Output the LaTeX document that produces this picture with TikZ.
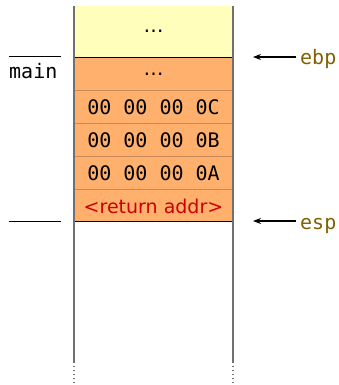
\documentclass[tikz,border=0pt]{standalone}
\usepackage{fontspec}
\setmainfont{DejaVu Sans}
\newfontfamily\hexfont{DejaVu Sans Mono}
\usetikzlibrary{arrows.meta}
\definecolor{cellyellow}{HTML}{FFFFBB}
\definecolor{cellorange}{HTML}{FFB06C}
\definecolor{rowline}{HTML}{C88A5A}
\definecolor{sidegray}{HTML}{707070}
\definecolor{regcolor}{HTML}{806000}
\definecolor{retred}{HTML}{CC0000}
\begin{document}
\begin{tikzpicture}[x=1pt,y=-1pt,
  cell/.style={minimum width=159pt,inner sep=0pt,outer sep=0pt,anchor=north west},
  txt/.style={inner sep=0pt,anchor=base},
  hex/.style={txt,font=\hexfont\fontsize{20}{22}\selectfont},
  dots/.style={txt,font=\fontsize{20}{22}\selectfont},
  reg/.style={font=\hexfont\fontsize{20}{22}\selectfont,text=regcolor,anchor=base west,inner sep=0pt},
  ptr/.style={-{Stealth[length=8pt,width=6pt]},line width=1.4pt,black},
  frame/.style={line width=0.6pt,black},
  side/.style={line width=1.4pt,sidegray}]
\useasboundingbox (0,0) rectangle (339,385);
% cells
\node[cell,fill=cellyellow,minimum height=51pt] (top) at (74,6) {};
\node[dots] (topdots) at (153.5,33) {…};
\node[cell,fill=cellorange,minimum height=164pt] (frameblk) at (74,57) {};
\node[dots] (r0) at (153.5,76) {…};
\node[hex] (r1) at (153.5,114.3) {00 00 00 0C};
\node[hex] (r2) at (153.5,147.3) {00 00 00 0B};
\node[hex] (r3) at (153.5,180.3) {00 00 00 0A};
\node[txt,font=\fontsize{19}{22}\selectfont,text=retred] (r4) at (153.5,213.3) {<return addr>};
% row separators
\foreach \yy in {90,123,156,189} \draw[rowline,line width=0.8pt] (74,\yy) -- (233,\yy);
\draw[frame] (frameblk.north west) -- (frameblk.north east);
\draw[frame] (frameblk.south west) -- (frameblk.south east);
% sides
\coordinate (lt) at (74,6); \coordinate (lb) at (74,362); \coordinate (lbb) at (74,385);
\coordinate (rt) at (233,6); \coordinate (rb) at (233,362); \coordinate (rbb) at (233,385);
\draw[side] (lt) -- (lb); \draw[side] (rt) -- (rb);
\draw[sidegray,line width=1.2pt,dash pattern=on 1.2pt off 2.8pt] (lb) -- (lbb);
\draw[sidegray,line width=1.2pt,dash pattern=on 1.2pt off 2.8pt] (rb) -- (rbb);
% main frame markers
\coordinate (m1a) at (9,57); \coordinate (m1b) at (61,57);
\coordinate (m2a) at (9,221); \coordinate (m2b) at (61,221);
\draw[line width=1pt] (m1a) -- (m1b);
\draw[line width=1pt] (m2a) -- (m2b);
\node[hex,anchor=base west] (main) at (9,79) {main};
% registers
\node[reg] (ebp) at (300,65) {ebp};
\node[reg] (esp) at (300,229) {esp};
\coordinate (ebptip) at (253,57);
\coordinate (esptip) at (253,221);
\coordinate (ebptail) at (296,57);
\coordinate (esptail) at (296,221);
\draw[ptr] (ebptail) -- (ebptip);
\draw[ptr] (esptail) -- (esptip);
\end{tikzpicture}
\end{document}
